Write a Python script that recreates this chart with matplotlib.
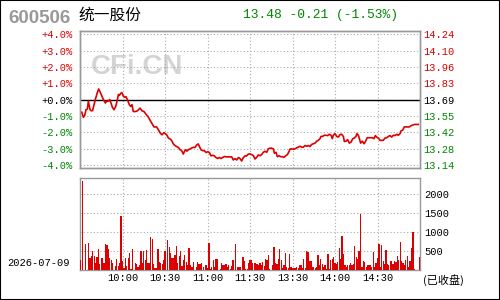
import numpy as np
import matplotlib
matplotlib.use("Agg")
import matplotlib.pyplot as plt
from matplotlib.patches import Rectangle

# =========================
# data
# =========================
prev_close = 13.69
title_code = "600506"
title_name = "统一股份"
title_quote = "13.48 -0.21 (-1.53%)"
trade_date = "2026-07-09"

# minutes since 9:30 (lunch break removed) and % change vs previous close
line_min = [
    1.2, 2.4, 3.3, 4.2, 5.2, 5.9, 6.6, 7.1, 8.0, 8.9,
    9.9, 10.8, 12.2, 13.2, 14.1, 15.3, 16.5, 17.9, 18.8, 20.0,
    20.9, 21.9, 22.8, 24.0, 25.2, 26.4, 27.1, 27.8, 28.7, 29.6,
    30.6, 31.5, 32.5, 33.9, 34.8, 35.8, 36.7, 37.6, 39.1, 40.5,
    42.4, 43.8, 45.2, 46.6, 48.0, 49.4, 50.8, 52.2, 54.1, 55.5,
    56.9, 57.9, 59.3, 61.2, 62.4, 63.5, 64.7, 65.9, 67.1, 68.2,
    69.4, 70.6, 71.8, 72.9, 73.6, 74.6, 75.5, 76.5, 77.6, 78.8,
    80.0, 81.2, 82.4, 83.5, 84.2, 85.4, 86.6, 87.8, 88.9, 90.1,
    91.3, 92.5, 93.6, 94.8, 96.0, 97.2, 98.4, 99.5, 100.7, 101.9,
    103.5, 105.2, 107.1, 108.2, 109.4, 110.6, 111.8, 112.9, 114.1, 115.3,
    116.5, 117.6, 118.8, 120.0, 121.2, 122.4, 123.5, 124.7, 125.9, 127.1,
    128.2, 129.4, 130.6, 131.8, 132.9, 134.1, 135.3, 136.5, 137.2, 138.4,
    139.3, 140.5, 141.6, 142.8, 144.0, 145.2, 146.4, 147.3, 148.2, 149.4,
    150.6, 151.8, 152.9, 154.1, 155.3, 156.5, 157.6, 158.8, 160.0, 161.2,
    162.4, 163.5, 164.7, 165.9, 167.1, 168.2, 169.4, 170.1, 171.3, 172.5,
    173.6, 174.8, 176.0, 177.2, 178.1, 178.8, 180.0, 181.2, 182.4, 183.5,
    184.7, 185.9, 186.6, 187.8, 188.9, 190.1, 191.3, 192.5, 193.6, 194.8,
    195.5, 196.5, 197.2, 198.1, 199.3, 200.5, 201.6, 202.8, 204.0, 205.2,
    206.4, 207.5, 208.5, 209.4, 210.6, 211.8, 212.9, 214.1, 215.3, 216.5,
    217.6, 218.8, 220.0, 221.2, 222.4, 223.5, 224.7, 225.9, 226.6, 227.8,
    228.9, 230.1, 231.3, 232.5, 233.6, 234.8, 236.0, 237.2, 238.8,
]
line_pct = [
    -0.76, -1.07, -0.97, -0.61, -0.57, -0.09, -0.41, -0.61, -0.68, -0.66,
    -0.30, 0.01, 0.43, 0.66, 0.49, 0.26, 0.01, -0.20, -0.09, -0.09,
    0.01, -0.20, -0.45, -0.61, -0.41, 0.01, 0.32, 0.26, 0.39, 0.43,
    0.22, 0.16, 0.18, -0.09, -0.30, -0.41, -0.30, -0.72, -0.72, -0.68,
    -0.51, -0.68, -0.72, -0.89, -1.03, -1.24, -1.45, -1.66, -1.66, -1.86,
    -2.07, -2.14, -2.01, -2.14, -2.34, -2.39, -2.49, -2.70, -2.80, -2.86,
    -2.91, -3.05, -3.11, -3.32, -3.18, -3.05, -3.14, -3.05, -3.01, -2.95,
    -2.91, -2.91, -2.76, -2.70, -2.84, -3.05, -3.11, -3.11, -3.22, -3.18,
    -3.22, -3.43, -3.39, -3.43, -3.53, -3.59, -3.53, -3.59, -3.53, -3.47,
    -3.49, -3.49, -3.49, -3.68, -3.59, -3.68, -3.53, -3.59, -3.74, -3.53,
    -3.43, -3.43, -3.32, -3.31, -3.35, -3.42, -3.62, -3.52, -3.37, -3.42,
    -3.35, -3.21, -3.15, -3.21, -3.00, -2.96, -2.96, -3.00, -3.27, -3.21,
    -3.48, -3.42, -3.48, -3.48, -3.52, -3.42, -3.35, -3.21, -3.02, -3.00,
    -3.02, -3.00, -2.94, -2.90, -2.84, -2.90, -2.90, -2.80, -2.84, -2.80,
    -2.86, -2.73, -2.69, -2.65, -2.53, -2.48, -2.38, -2.24, -2.24, -2.17,
    -2.17, -2.19, -2.11, -2.17, -2.38, -2.17, -2.07, -2.24, -2.28, -2.13,
    -2.11, -2.24, -2.55, -2.53, -2.44, -2.65, -2.59, -2.38, -2.34, -2.24,
    -2.07, -2.17, -2.38, -2.65, -2.53, -2.69, -2.53, -2.32, -2.32, -2.32,
    -2.32, -2.38, -2.19, -2.28, -2.34, -2.48, -2.48, -2.48, -2.34, -2.32,
    -2.24, -2.19, -2.28, -2.17, -2.19, -2.11, -2.17, -2.07, -1.90, -1.86,
    -1.66, -1.66, -1.66, -1.66, -1.59, -1.55, -1.51, -1.51, -1.51,
]

# volume bars (minute, lots)
vol_min_am = [
    0, 2, 4, 6, 7, 8, 9, 10, 11, 12, 13, 14, 15, 16, 17, 18, 19, 20, 21, 22,
    23, 25, 26, 27, 28, 29, 30, 31, 32, 33, 34, 35, 36, 37, 39, 40, 41, 42, 43, 44,
    45, 46, 47, 48, 49, 50, 51, 52, 53, 54, 55, 56, 57, 58, 59, 60, 62, 63, 64, 65,
    66, 67, 68, 69, 70, 71, 72, 73, 74, 75, 76, 77, 78, 79, 80, 82, 83, 84, 85, 86,
    87, 89, 90, 91, 92, 93, 94, 95, 96, 97, 99, 100, 101, 102, 103, 104, 105, 106, 107, 108,
    110, 111, 112, 113, 115, 116, 117, 118, 119,
]
vol_am = [
    254, 2354, 678, 706, 311, 358, 508, 367, 179, 339,
    536, 141, 311, 311, 170, 678, 650, 555, 311, 245,
    188, 85, 283, 104, 170, 1412, 226, 57, 311, 104,
    311, 452, 28, 536, 188, 160, 66, 113, 508, 188,
    508, 254, 518, 170, 170, 866, 819, 141, 57, 57,
    536, 217, 170, 151, 245, 499, 791, 593, 452, 311,
    311, 377, 621, 188, 358, 490, 95, 245, 396, 198,
    123, 565, 132, 75, 217, 75, 207, 141, 160, 188,
    75, 113, 47, 697, 19, 75, 245, 75, 283, 283,
    19, 188, 113, 113, 141, 75, 132, 19, 104, 245,
    678, 75, 75, 66, 339, 226, 19, 19, 188,
]
vol_min_pm = list(range(120, 135)) + list(range(136, 237)) + [240]
vol_pm = [
    254, 254, 170, 188, 170, 151, 113, 170, 113, 207,
    104, 283, 254, 396, 28, 132, 593, 170, 151, 283,
    555, 254, 57, 132, 452, 75, 57, 424, 75, 57,
    47, 57, 75, 57, 113, 132, 47, 283, 57, 490,
    461, 226, 226, 66, 75, 47, 75, 377, 132, 283,
    151, 75, 113, 28, 415, 19, 254, 283, 339, 170,
    141, 207, 565, 273, 894, 415, 113, 75, 132, 113,
    170, 132, 151, 621, 339, 283, 490, 1469, 75, 226,
    207, 75, 113, 132, 113, 75, 471, 75, 188, 311,
    678, 75, 659, 226, 151, 518, 141, 113, 226, 226,
    151, 226, 207, 358, 245, 734, 226, 170, 132, 264,
    358, 75, 226, 584, 1000, 19, 339,
]

pct_ticks = [4, 3, 2, 1, 0, -1, -2, -3, -4]
vol_ticks = [500, 1000, 1500, 2000]
time_ticks = [30, 60, 90, 120, 150, 180, 210]
time_labels = ["10:00", "10:30", "11:00", "11:30", "13:30", "14:00", "14:30"]

# =========================
# style
# =========================
RED = "#dd0000"
GREEN = "#008800"
FRAME = "#999999"
GRID = "#aaaaaa"
MONO = "Liberation Mono"
W, H = 500, 300


def fx(px):
    return px / W


def fy(py):
    return 1 - py / H


def frame(a):
    for s in a.spines.values():
        s.set_color(FRAME)
        s.set_linewidth(1.0)


fig = plt.figure(figsize=(5, 3), dpi=100)
fig.patch.set_facecolor("white")

ax = fig.add_axes([fx(80), fy(168), 340 / W, 137 / H])
axv = fig.add_axes([fx(80), fy(269.7), 340 / W, 91.4 / H])

# =========================
# price panel
# =========================
ax.set_xlim(0, 240)
ax.set_ylim(-4.17, 4.2)
ax.grid(True, color=GRID, linestyle=(0, (1, 2)), linewidth=0.8, zorder=0)
ax.set_axisbelow(True)
ax.text(0.032, 0.686, "CFi.CN", transform=ax.transAxes, family="Liberation Sans",
        fontweight="bold", fontsize=20, color="#d4d4d4", zorder=0.5)
ax.axhline(0, color="black", linewidth=1.0, zorder=2)
ax.plot(line_min, line_pct, color=RED, linewidth=1.2, zorder=3)

ax.set_xticks(time_ticks)
ax.set_xticklabels([])
ax.set_yticks(pct_ticks)
ax.set_yticklabels([f"{v:+.1f}%" for v in pct_ticks], family=MONO, fontsize=7.5)
ax.tick_params(length=0, pad=5.5)
for v, lab in zip(pct_ticks, ax.get_yticklabels()):
    lab.set_color(RED if v > 0 else (GREEN if v < 0 else "black"))
frame(ax)

ax2 = ax.twinx()
ax2.set_ylim(ax.get_ylim())
ax2.set_yticks(pct_ticks)
ax2.set_yticklabels([f"{prev_close * (1 + v / 100):.2f}" for v in pct_ticks],
                    family=MONO, fontsize=7.5)
ax2.tick_params(length=0, pad=2)
for v, lab in zip(pct_ticks, ax2.get_yticklabels()):
    lab.set_color(RED if v > 0 else (GREEN if v < 0 else "black"))
frame(ax2)

# =========================
# volume panel
# =========================
axv.set_xlim(0, 240)
axv.set_ylim(0, 2424)
axv.grid(True, color=GRID, linestyle=(0, (1, 2)), linewidth=0.8, zorder=0)
axv.set_axisbelow(True)
axv.bar(vol_min_am + vol_min_pm, vol_am + vol_pm, width=0.9, color=RED,
        linewidth=0, zorder=3)
axv.yaxis.tick_right()
axv.set_yticks(vol_ticks)
axv.set_yticklabels([str(v) for v in vol_ticks], family=MONO, fontsize=7.5)
axv.set_xticks(time_ticks)
axv.set_xticklabels(time_labels, family=MONO, fontsize=7.5)
axv.tick_params(axis="y", length=0, pad=3)
axv.tick_params(axis="x", length=0, pad=2.5)
frame(axv)

# =========================
# header / footer text
# =========================
fig.text(fx(8), fy(23.3), title_code, family="Liberation Sans", fontweight="bold",
         fontsize=13.5, color="#999999", va="baseline")
fig.text(fx(78), fy(15.5), title_name, family=["Noto Sans CJK SC", "DejaVu Sans"],
         fontsize=11.3, color="black", va="center")
fig.text(fx(243), fy(15), title_quote, family=MONO, fontsize=9.4, color=GREEN,
         va="center")
fig.text(fx(7), fy(263.3), trade_date, family=MONO, fontsize=7.5, va="center")
fig.text(fx(423), fy(280), "(已收盘)", family=["Noto Sans CJK SC", "DejaVu Sans"],
         fontsize=8, va="center")

fig.add_artist(Rectangle((0, 0), 1, 1, transform=fig.transFigure, fill=False,
                         edgecolor="black", linewidth=1.5))

fig.savefig("out.png", dpi=100)
